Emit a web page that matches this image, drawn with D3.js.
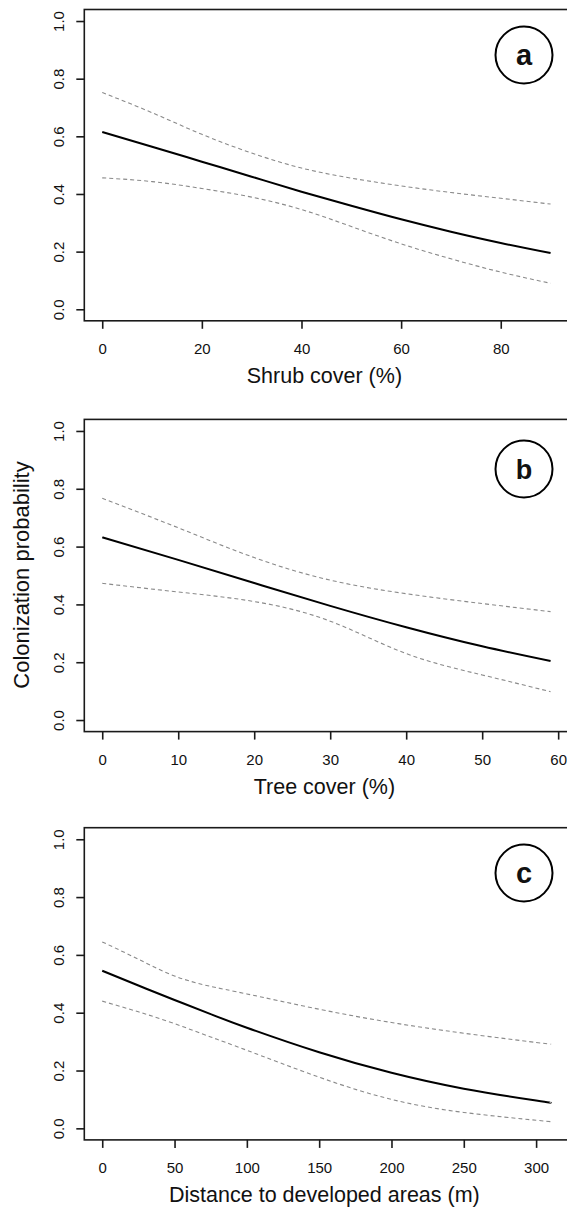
<!DOCTYPE html>
<html>
<head>
<meta charset="utf-8">
<script src="https://cdn.jsdelivr.net/npm/d3@7"></script>
<style>
  html, body { margin: 0; padding: 0; background: #fff; }
  svg { display: block; }
  text { font-family: "Liberation Sans", Arial, Helvetica, sans-serif; fill: #111; }
</style>
</head>
<body>
<script>
// ---- Data ----
const probTicks = [0.0, 0.2, 0.4, 0.6, 0.8, 1.0];

const shrubX     = [0, 10, 20, 30, 40, 50, 60, 70, 80, 90];
const shrubFit   = [0.615, 0.564, 0.512, 0.460, 0.408, 0.359, 0.312, 0.269, 0.230, 0.195];
const shrubUpper = [0.752, 0.682, 0.607, 0.542, 0.490, 0.455, 0.428, 0.405, 0.385, 0.365];
const shrubLower = [0.456, 0.443, 0.419, 0.389, 0.346, 0.287, 0.227, 0.175, 0.129, 0.090];
const shrubTicks = [0, 20, 40, 60, 80];

const treeX     = [0, 10, 20, 30, 40, 50, 59];
const treeFit   = [0.632, 0.554, 0.474, 0.395, 0.321, 0.255, 0.204];
const treeUpper = [0.767, 0.665, 0.562, 0.484, 0.437, 0.403, 0.375];
const treeLower = [0.473, 0.443, 0.410, 0.342, 0.230, 0.156, 0.098];
const treeTicks = [0, 10, 20, 30, 40, 50, 60];

const distX     = [0, 25, 50, 75, 100, 150, 200, 250, 300, 310];
const distFit   = [0.545, 0.494, 0.444, 0.395, 0.348, 0.263, 0.192, 0.137, 0.096, 0.089];
const distUpper = [0.645, 0.585, 0.527, 0.491, 0.465, 0.412, 0.366, 0.329, 0.297, 0.292];
const distLower = [0.440, 0.403, 0.362, 0.316, 0.270, 0.177, 0.100, 0.055, 0.028, 0.023];
const distTicks = [0, 50, 100, 150, 200, 250, 300];

const yTitle = "Colonization probability";

const panels = [
  { letter: "a", xs: shrubX, fit: shrubFit, upper: shrubUpper, lower: shrubLower,
    ticks: shrubTicks, xmax: 90, title: "Shrub cover (%)", top: 9.5, bottom: 320.8, circleY: 55, letterSize: 29 },
  { letter: "b", xs: treeX, fit: treeFit, upper: treeUpper, lower: treeLower,
    ticks: treeTicks, xmax: 59, title: "Tree cover (%)", top: 419.4, bottom: 731.6, circleY: 469, letterSize: 27 },
  { letter: "c", xs: distX, fit: distFit, upper: distUpper, lower: distLower,
    ticks: distTicks, xmax: 310, title: "Distance to developed areas (m)", top: 827.7, bottom: 1139.9, circleY: 873, letterSize: 29 }
];

// ---- Drawing ----
const W = 567, H = 1207;
const svg = d3.select("body").append("svg").attr("width", W).attr("height", H);

const left = 84.3, right = 568.5;
const FONT = '"Liberation Sans", Arial, Helvetica, sans-serif';

panels.forEach(p => {
  const pad = p.xmax * 0.04;
  const x = d3.scaleLinear().domain([-pad, p.xmax + pad]).range([left, right]);
  const y = d3.scaleLinear().domain([-0.04, 1.04]).range([p.bottom, p.top]);
  const g = svg.append("g");

  const line = (vals) => d3.line()
    .x((d, i) => x(p.xs[i]))
    .y(d => y(d))
    .curve(d3.curveNatural)(vals);

  // confidence bands
  [p.upper, p.lower].forEach(vals => {
    g.append("path").attr("d", line(vals))
      .attr("fill", "none").attr("stroke", "#8a8a8a")
      .attr("stroke-width", 1.1).attr("stroke-dasharray", "4,3");
  });
  // fitted line
  g.append("path").attr("d", line(p.fit))
    .attr("fill", "none").attr("stroke", "#000").attr("stroke-width", 2);

  // box
  g.append("rect")
    .attr("x", left).attr("y", p.top)
    .attr("width", right - left).attr("height", p.bottom - p.top)
    .attr("fill", "none").attr("stroke", "#1a1a1a").attr("stroke-width", 1.6);

  // x axis
  const xa = g.append("g").attr("transform", `translate(0,${p.bottom})`)
    .call(d3.axisBottom(x).tickValues(p.ticks).tickSize(8).tickFormat(d3.format("d")));
  xa.select(".domain").remove();
  xa.selectAll(".tick line").attr("stroke", "#1a1a1a").attr("stroke-width", 1.6);
  xa.selectAll(".tick text").attr("y", 33).attr("dy", 0)
    .attr("font-size", 15).attr("fill", "#111")
    .style("font-family", FONT);

  // y axis
  const ya = g.append("g").attr("transform", `translate(${left},0)`)
    .call(d3.axisLeft(y).tickValues(probTicks).tickSize(8).tickFormat(d3.format(".1f")));
  ya.select(".domain").remove();
  ya.selectAll(".tick line").attr("stroke", "#1a1a1a").attr("stroke-width", 1.6);
  ya.selectAll(".tick text")
    .attr("x", 0).attr("dy", 0).attr("y", 0)
    .attr("text-anchor", "middle")
    .attr("transform", "translate(-20.3,0) rotate(-90)")
    .attr("font-size", 15).attr("fill", "#111")
    .style("font-family", FONT);

  // x title
  g.append("text")
    .attr("x", (left + right) / 2 - 2).attr("y", p.bottom + 62.5)
    .attr("text-anchor", "middle").attr("font-size", 21.5)
    .text(p.title);

  // panel letter
  g.append("circle").attr("cx", 524).attr("cy", p.circleY).attr("r", 28.5)
    .attr("fill", "#fff").attr("stroke", "#000").attr("stroke-width", 2);
  g.append("text").attr("x", 524).attr("y", p.circleY)
    .attr("dy", "0.36em")
    .attr("text-anchor", "middle").attr("font-weight", "bold")
    .attr("font-size", p.letterSize).text(p.letter);
});

// y title
svg.append("text")
  .attr("transform", "translate(29,575) rotate(-90)")
  .attr("text-anchor", "middle").attr("font-size", 22)
  .text(yTitle);
</script>
</body>
</html>
